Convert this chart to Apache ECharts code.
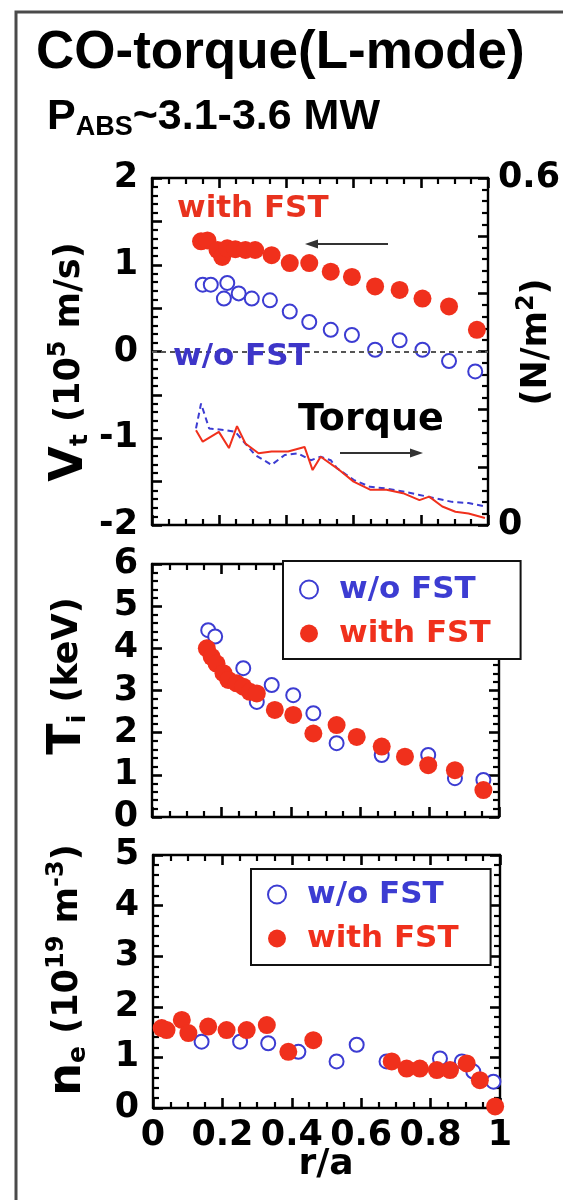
<!DOCTYPE html>
<html>
<head>
<meta charset="utf-8">
<script src="https://cdn.jsdelivr.net/npm/echarts@6/dist/echarts.min.js"></script>
<style>
  html, body { margin: 0; padding: 0; background: #fff; }
  #chart { width: 563px; height: 1200px; }
</style>
</head>
<body>
<div id="chart"></div>
<script>
// Toroidal rotation velocity V_t (1e5 m/s) vs r/a
const vtWithR = [0.146, 0.165, 0.195, 0.209, 0.224, 0.248, 0.278, 0.307, 0.356, 0.410, 0.468, 0.532, 0.595, 0.664, 0.737, 0.805, 0.884, 0.967];
const vtWith  = [1.27, 1.28, 1.17, 1.09, 1.19, 1.18, 1.17, 1.17, 1.11, 1.02, 1.02, 0.92, 0.86, 0.75, 0.71, 0.61, 0.52, 0.25];
const vtWoR   = [0.151, 0.175, 0.214, 0.224, 0.258, 0.297, 0.351, 0.410, 0.468, 0.532, 0.595, 0.664, 0.737, 0.805, 0.884, 0.962];
const vtWo    = [0.77, 0.77, 0.61, 0.79, 0.67, 0.61, 0.59, 0.46, 0.34, 0.25, 0.19, 0.02, 0.13, 0.02, -0.11, -0.23];

// Torque density (N/m^2) vs r/a
const tqWithR = [0.131, 0.151, 0.199, 0.229, 0.253, 0.278, 0.317, 0.356, 0.405, 0.454, 0.478, 0.502, 0.551, 0.600, 0.649, 0.698, 0.747, 0.796, 0.825, 0.864, 0.903, 0.942, 0.991];
const tqWith  = [0.164, 0.144, 0.161, 0.133, 0.171, 0.141, 0.124, 0.127, 0.127, 0.135, 0.095, 0.118, 0.098, 0.075, 0.061, 0.061, 0.055, 0.043, 0.049, 0.032, 0.023, 0.020, 0.012];
const tqWoR   = [0.131, 0.146, 0.170, 0.219, 0.248, 0.307, 0.356, 0.395, 0.434, 0.473, 0.502, 0.532, 0.551, 0.600, 0.649, 0.698, 0.747, 0.796, 0.845, 0.893, 0.942, 0.991];
const tqWo    = [0.167, 0.210, 0.167, 0.164, 0.161, 0.121, 0.104, 0.121, 0.124, 0.112, 0.118, 0.112, 0.098, 0.078, 0.066, 0.063, 0.058, 0.052, 0.046, 0.040, 0.038, 0.032];

// Ion temperature T_i (keV) vs r/a
const tiWoR   = [0.162, 0.182, 0.263, 0.302, 0.345, 0.407, 0.465, 0.532, 0.662, 0.796, 0.873, 0.955];
const tiWo    = [4.43, 4.28, 3.53, 2.73, 3.13, 2.89, 2.46, 1.75, 1.47, 1.47, 0.92, 0.88];
const tiWithR = [0.158, 0.172, 0.186, 0.206, 0.220, 0.244, 0.263, 0.282, 0.302, 0.354, 0.407, 0.465, 0.532, 0.590, 0.662, 0.729, 0.796, 0.873, 0.955];
const tiWith  = [4.00, 3.80, 3.64, 3.41, 3.25, 3.17, 3.09, 2.97, 2.93, 2.54, 2.42, 1.98, 2.18, 1.90, 1.67, 1.43, 1.23, 1.11, 0.64];

// Electron density n_e (1e19 m^-3) vs r/a
const neWoR   = [0.140, 0.251, 0.332, 0.419, 0.529, 0.587, 0.673, 0.827, 0.890, 0.923, 0.981];
const neWo    = [1.31, 1.31, 1.28, 1.11, 0.92, 1.25, 0.92, 0.98, 0.92, 0.72, 0.52];
const neWithR = [0.025, 0.039, 0.083, 0.102, 0.159, 0.212, 0.270, 0.328, 0.390, 0.462, 0.688, 0.731, 0.769, 0.818, 0.856, 0.904, 0.942, 0.986];
const neWith  = [1.58, 1.54, 1.74, 1.48, 1.61, 1.54, 1.54, 1.64, 1.11, 1.34, 0.92, 0.78, 0.78, 0.75, 0.75, 0.88, 0.55, 0.03];

const LABEL_WO = 'w/o FST';
const LABEL_WITH = 'with FST';

const RED = '#f0301c';
const BLUE = '#3c3cd2';
const FONT = '"DejaVu Sans", sans-serif';
const TITLE_FONT = '"Liberation Sans", Arial, sans-serif';

const pairs = (xs, ys) => xs.map((x, i) => [x, ys[i]]);
const labelStyle = { color: '#000', fontFamily: FONT, fontWeight: 'bold', fontSize: 35 };

// every axis gets its own fresh style objects; ticks point into the plot
function frameParts(splitNumber) {
  return {
    axisLine: { show: true, onZero: false, lineStyle: { color: '#000', width: 2.4 } },
    axisTick: { show: true, inside: true, length: 10, lineStyle: { color: '#000', width: 2.6 } },
    minorTick: { show: true, splitNumber, length: 6, lineStyle: { color: '#000', width: 2.2 } },
    splitLine: { show: false },
    minorSplitLine: { show: false }
  };
}

function xAx(grid, position, showLabels) {
  return Object.assign({
    type: 'value', gridIndex: grid, position, min: 0, max: 1, interval: 0.2,
    axisLabel: Object.assign({ show: showLabels, margin: 10 }, labelStyle)
  }, frameParts(4));
}
function yAx(grid, position, min, max, interval, split, fmt) {
  return Object.assign({
    type: 'value', gridIndex: grid, position, min, max, interval,
    axisLabel: Object.assign({ show: !!fmt, margin: position === 'left' ? 14 : 10, formatter: fmt }, labelStyle)
  }, frameParts(split));
}

const isInt = v => Math.abs(v - Math.round(v)) < 1e-9;

function openDots(name, xi, yi, data) {
  return {
    name, type: 'scatter', xAxisIndex: xi, yAxisIndex: yi, data,
    symbol: 'emptyCircle', symbolSize: 14,
    itemStyle: { color: BLUE, borderColor: BLUE, borderWidth: 2, opacity: 1 }, z: 3
  };
}
function solidDots(name, xi, yi, data) {
  return {
    name, type: 'scatter', xAxisIndex: xi, yAxisIndex: yi, data,
    symbol: 'circle', symbolSize: 18,
    itemStyle: { color: RED, opacity: 1 }, z: 4
  };
}

function legendBox(left, top, padding, gap) {
  return {
    orient: 'vertical', left, top, padding,
    itemWidth: 50, itemHeight: 18, itemGap: gap,
    backgroundColor: '#fff', borderColor: '#111', borderWidth: 2,
    selectedMode: false,
    textStyle: { fontFamily: FONT, fontWeight: 'bold', fontSize: 31 },
    data: [
      { name: LABEL_WO, textStyle: { color: BLUE } },
      { name: LABEL_WITH, textStyle: { color: RED } }
    ]
  };
}

function arrow(x1, x2, y) {
  const dir = Math.sign(x2 - x1);
  return [
    { type: 'line', shape: { x1, y1: y, x2: x2 - dir * 6, y2: y }, style: { stroke: '#333', lineWidth: 2 }, z: 50 },
    { type: 'polygon', shape: { points: [[x2, y], [x2 - dir * 13, y - 4.5], [x2 - dir * 13, y + 4.5]] }, style: { fill: '#333' }, z: 50 }
  ];
}

const chart = echarts.init(document.getElementById('chart'), null, { renderer: 'canvas' });

chart.setOption({
  backgroundColor: '#fff',
  animation: false,
  grid: [
    { left: 152, top: 178, width: 342, height: 347 },
    { left: 152, top: 564, width: 347, height: 253 },
    { left: 153, top: 855, width: 347, height: 253 }
  ],
  xAxis: [
    xAx(0, 'bottom', false), xAx(0, 'top', false),
    xAx(1, 'bottom', false), xAx(1, 'top', false),
    xAx(2, 'bottom', true),  xAx(2, 'top', false)
  ],
  yAxis: [
    yAx(0, 'left', -2, 2, 0.5, 5, v => isInt(v) ? String(v) : ''),
    yAx(0, 'right', 0, 0.6, 0.1, 5, v => (Math.abs(v) < 1e-9 || Math.abs(v - 0.6) < 1e-9) ? String(+v.toFixed(1)) : ''),
    yAx(1, 'left', 0, 6, 1, 5, v => String(v)),
    yAx(1, 'right', 0, 6, 1, 5, null),
    yAx(2, 'left', 0, 5, 1, 5, v => String(v)),
    yAx(2, 'right', 0, 5, 1, 5, null)
  ],
  legend: [
    legendBox(283, 561, [13, 30, 10, 16], 13),
    legendBox(251, 869, [10, 32, 11, 16], 13)
  ],
  series: [
    Object.assign(openDots('Vt ' + LABEL_WO, 0, 0, pairs(vtWoR, vtWo)), {
      markLine: {
        silent: true, symbol: 'none', label: { show: false },
        lineStyle: { type: [5, 4], color: '#555', width: 2 },
        data: [{ yAxis: 0 }]
      }
    }),
    solidDots('Vt ' + LABEL_WITH, 0, 0, pairs(vtWithR, vtWith)),
    {
      name: 'Torque ' + LABEL_WO, type: 'line', xAxisIndex: 0, yAxisIndex: 1,
      data: pairs(tqWoR, tqWo), showSymbol: false, symbol: 'none',
      lineStyle: { color: BLUE, width: 2, type: [6, 4] }, z: 2
    },
    {
      name: 'Torque ' + LABEL_WITH, type: 'line', xAxisIndex: 0, yAxisIndex: 1,
      data: pairs(tqWithR, tqWith), showSymbol: false, symbol: 'none',
      lineStyle: { color: RED, width: 2 }, z: 2
    },
    openDots(LABEL_WO, 2, 2, pairs(tiWoR, tiWo)),
    solidDots(LABEL_WITH, 2, 2, pairs(tiWithR, tiWith)),
    openDots(LABEL_WO, 4, 4, pairs(neWoR, neWo)),
    solidDots(LABEL_WITH, 4, 4, pairs(neWithR, neWith))
  ],
  graphic: [
    // outer frame
    { type: 'rect', shape: { x: 16, y: 12, width: 640, height: 1260 }, style: { fill: 'none', stroke: '#4a4a4a', lineWidth: 3 }, silent: true, z: 0 },
    // heading
    { type: 'text', x: 36, y: 53, style: { text: 'CO-torque(L-mode)', font: 'bold 53px ' + TITLE_FONT, fill: '#000', align: 'left', verticalAlign: 'middle' }, z: 50 },
    {
      type: 'text', x: 47, y: 117, z: 50,
      style: {
        text: '{a|P}{s|ABS}{a|~3.1-3.6 MW}', align: 'left', verticalAlign: 'middle',
        rich: {
          a: { font: 'bold 43px ' + TITLE_FONT, fill: '#000', lineHeight: 48, verticalAlign: 'middle' },
          s: { font: 'bold 27px ' + TITLE_FONT, fill: '#000', lineHeight: 48, verticalAlign: 'bottom' }
        }
      }
    },
    // annotations inside the rotation panel
    { type: 'text', x: 177, y: 209, style: { text: LABEL_WITH, font: 'bold 31px ' + FONT, fill: '#e8321e', align: 'left', verticalAlign: 'middle' }, z: 50 },
    { type: 'text', x: 173, y: 357, style: { text: LABEL_WO, font: 'bold 31px ' + FONT, fill: '#3d35c8', align: 'left', verticalAlign: 'middle' }, z: 50 },
    { type: 'text', x: 298, y: 420, style: { text: 'Torque', font: 'bold 38px ' + FONT, fill: '#000', align: 'left', verticalAlign: 'middle' }, z: 50 },
    ...arrow(388, 305, 244),
    ...arrow(340, 423, 453),
    // axis titles
    {
      type: 'text', x: 70, y: 362, rotation: Math.PI / 2, z: 50,
      style: {
        text: '{v|V}{s|t}{n| (10}{p|5}{n| m/s)}', align: 'center', verticalAlign: 'middle',
        rich: {
          v: { font: 'bold 46px ' + FONT, fill: '#000', lineHeight: 46, verticalAlign: 'middle' },
          s: { font: 'bold 25px ' + FONT, fill: '#000', lineHeight: 46, verticalAlign: 'bottom' },
          n: { font: 'bold 35px ' + FONT, fill: '#000', lineHeight: 46, verticalAlign: 'middle' },
          p: { font: 'bold 24px ' + FONT, fill: '#000', lineHeight: 46, verticalAlign: 'top' }
        }
      }
    },
    {
      type: 'text', x: 537, y: 342, rotation: Math.PI / 2, z: 50,
      style: {
        text: '{n|(N/m}{p|2}{n|)}', align: 'center', verticalAlign: 'middle',
        rich: {
          n: { font: 'bold 35px ' + FONT, fill: '#000', lineHeight: 44, verticalAlign: 'middle' },
          p: { font: 'bold 24px ' + FONT, fill: '#000', lineHeight: 44, verticalAlign: 'top' }
        }
      }
    },
    {
      type: 'text', x: 68, y: 676, rotation: Math.PI / 2, z: 50,
      style: {
        text: '{v|T}{s|i}{n| (keV)}', align: 'center', verticalAlign: 'middle',
        rich: {
          v: { font: 'bold 46px ' + FONT, fill: '#000', lineHeight: 46, verticalAlign: 'middle' },
          s: { font: 'bold 25px ' + FONT, fill: '#000', lineHeight: 46, verticalAlign: 'bottom' },
          n: { font: 'bold 35px ' + FONT, fill: '#000', lineHeight: 46, verticalAlign: 'middle' }
        }
      }
    },
    {
      type: 'text', x: 68, y: 970, rotation: Math.PI / 2, z: 50,
      style: {
        text: '{v|n}{s|e}{n| (10}{p|19}{n| m}{p|-3}{n|)}', align: 'center', verticalAlign: 'middle',
        rich: {
          v: { font: 'bold 46px ' + FONT, fill: '#000', lineHeight: 46, verticalAlign: 'middle' },
          s: { font: 'bold 25px ' + FONT, fill: '#000', lineHeight: 46, verticalAlign: 'bottom' },
          n: { font: 'bold 35px ' + FONT, fill: '#000', lineHeight: 46, verticalAlign: 'middle' },
          p: { font: 'bold 24px ' + FONT, fill: '#000', lineHeight: 46, verticalAlign: 'top' }
        }
      }
    },
    { type: 'text', x: 326, y: 1165, style: { text: 'r/a', font: 'bold 36px ' + FONT, fill: '#000', align: 'center', verticalAlign: 'middle' }, z: 50 }
  ]
});
</script>
</body>
</html>
